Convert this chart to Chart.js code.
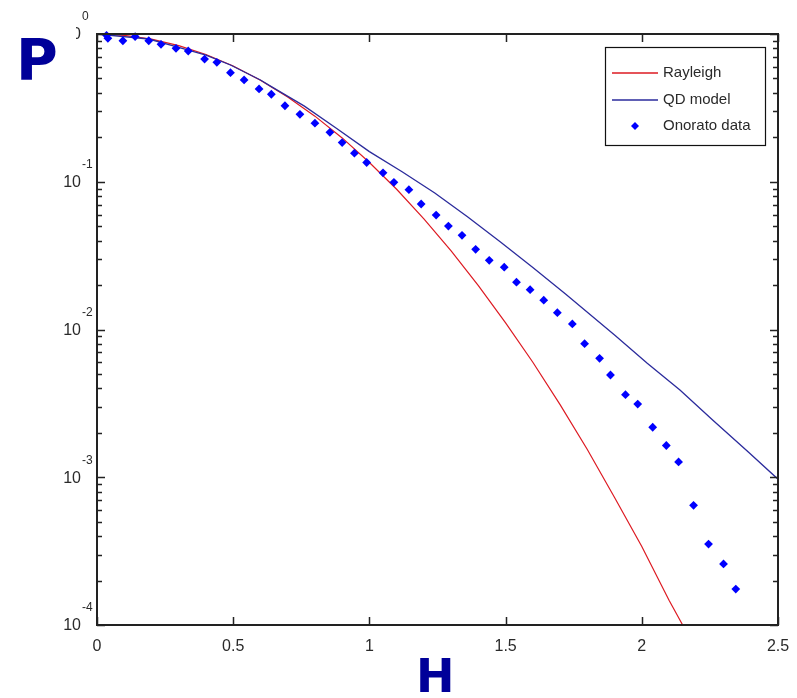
<!DOCTYPE html>
<html>
<head>
<meta charset="utf-8">
<style>
  body { margin: 0; background: #fff; }
  canvas { display: block; }
</style>
<script src="https://cdn.jsdelivr.net/npm/chart.js@4.4.1/dist/chart.umd.min.js"></script>
</head>
<body>
<canvas id="myChart" width="797" height="698"></canvas>
<script>
// Rayleigh curve
const rayH = [0, 0.1, 0.2, 0.3, 0.4, 0.5, 0.6, 0.7, 0.8, 0.9, 1.0, 1.1, 1.2, 1.3, 1.4, 1.5, 1.6, 1.7, 1.8, 1.9, 2.0, 2.1, 2.15];
const rayP = [1, 0.98, 0.923, 0.835, 0.726, 0.607, 0.487, 0.375, 0.278, 0.198, 0.135, 0.089, 0.056, 0.034, 0.0198, 0.0111, 0.006, 0.0031, 0.00154, 0.00073, 0.00034, 0.000147, 0.0001];

// QD model curve
const qdH = [0, 0.19, 0.29, 0.4, 0.49, 0.6, 0.64, 0.76, 0.88, 1.0, 1.12, 1.24, 1.36, 1.48, 1.6, 1.72, 1.9, 2.02, 2.14, 2.26, 2.39, 2.5];
const qdP = [1, 0.925, 0.82, 0.72, 0.617, 0.488, 0.44, 0.326, 0.229, 0.16, 0.117, 0.084, 0.058, 0.0393, 0.0263, 0.0174, 0.00918, 0.0059, 0.00389, 0.00244, 0.00149, 0.00097];

// Onorato data points
const onH = [0.035, 0.04, 0.095, 0.14, 0.19, 0.235, 0.29, 0.335, 0.395, 0.44, 0.49, 0.54, 0.595, 0.64, 0.69, 0.745, 0.80, 0.855, 0.90, 0.945, 0.99, 1.05, 1.09, 1.145, 1.19, 1.245, 1.29, 1.34, 1.39, 1.44, 1.495, 1.54, 1.59, 1.64, 1.69, 1.745, 1.79, 1.845, 1.885, 1.94, 1.985, 2.04, 2.09, 2.135, 2.19, 2.245, 2.30, 2.345];
const onP = [0.98, 0.935, 0.90, 0.96, 0.90, 0.851, 0.80, 0.767, 0.677, 0.643, 0.547, 0.489, 0.425, 0.391, 0.327, 0.286, 0.249, 0.216, 0.184, 0.156, 0.135, 0.115, 0.0991, 0.0884, 0.0707, 0.0595, 0.0501, 0.0434, 0.0349, 0.0294, 0.0264, 0.0209, 0.0186, 0.0158, 0.0130, 0.0109, 0.00802, 0.00638, 0.00492, 0.00362, 0.00313, 0.00218, 0.00164, 0.00127, 0.000646, 0.000353, 0.000259, 0.000175];

// axis ticks
const xTicks = [0, 0.5, 1, 1.5, 2, 2.5];
const xTickLabels = ['0', '0.5', '1', '1.5', '2', '2.5'];
const yTickExps = [0, -1, -2, -3, -4];

const toXY = (xs, ys) => xs.map((x, i) => ({ x: x, y: ys[i] }));

const RED = '#dd1a22';
const QD_BLUE = '#2b2b9c';
const PT_BLUE = '#0000ff';
const AXIS = '#222';
const TXT = '#2a2a2a';

const matlabAxes = {
    id: 'matlabAxes',
    afterDraw(chart) {
        const ctx = chart.ctx;
        const a = chart.chartArea;
        const xs = chart.scales.x, ys = chart.scales.y;
        ctx.save();

        // box
        ctx.strokeStyle = AXIS;
        ctx.lineWidth = 2;
        ctx.strokeRect(a.left, a.top, a.right - a.left, a.bottom - a.top);

        // x ticks (inside, top and bottom)
        ctx.lineWidth = 1.5;
        ctx.beginPath();
        xTicks.forEach(v => {
            const px = Math.round(xs.getPixelForValue(v)) + 0.5;
            ctx.moveTo(px, a.bottom); ctx.lineTo(px, a.bottom - 8);
            ctx.moveTo(px, a.top); ctx.lineTo(px, a.top + 8);
        });
        // y ticks, major and minor
        yTickExps.forEach(e => {
            const py = Math.round(ys.getPixelForValue(Math.pow(10, e))) + 0.5;
            ctx.moveTo(a.left, py); ctx.lineTo(a.left + 8, py);
            ctx.moveTo(a.right, py); ctx.lineTo(a.right - 8, py);
            if (e < 0) {
                for (let m = 2; m <= 9; m++) {
                    const my = Math.round(ys.getPixelForValue(m * Math.pow(10, e))) + 0.5;
                    ctx.moveTo(a.left, my); ctx.lineTo(a.left + 5, my);
                    ctx.moveTo(a.right, my); ctx.lineTo(a.right - 5, my);
                }
            }
        });
        ctx.stroke();

        // tick labels
        ctx.fillStyle = TXT;
        ctx.font = '16px "Liberation Sans", Arial, sans-serif';
        ctx.textAlign = 'center';
        ctx.textBaseline = 'top';
        xTicks.forEach((v, i) => {
            ctx.fillText(xTickLabels[i], xs.getPixelForValue(v), a.bottom + 14);
        });
        yTickExps.forEach(e => {
            const py = ys.getPixelForValue(Math.pow(10, e));
            ctx.save();
            if (e === 0) {
                // top label is mostly hidden in the original
                ctx.beginPath();
                ctx.rect(76, 0, 20, 60);
                ctx.clip();
            }
            ctx.font = '16px "Liberation Sans", Arial, sans-serif';
            ctx.textAlign = 'right';
            ctx.textBaseline = 'middle';
            ctx.fillText('10', a.left - 16, py + 1);
            ctx.restore();
            ctx.font = '12px "Liberation Sans", Arial, sans-serif';
            ctx.textAlign = 'left';
            ctx.textBaseline = 'middle';
            ctx.fillText(String(e === 0 ? '0' : '-' + (-e)), a.left - 15, py - 17);
        });

        // legend
        const lx = 605, ly = 47, lw = 160, lh = 98;
        ctx.fillStyle = '#fff';
        ctx.fillRect(lx, ly, lw, lh);
        ctx.strokeStyle = '#111';
        ctx.lineWidth = 1.2;
        ctx.strokeRect(lx + 0.5, ly + 0.5, lw, lh);
        const rows = [73, 100, 126];
        chart.data.datasets.forEach((ds, i) => {
            const ry = rows[i];
            if (ds.showLine) {
                ctx.strokeStyle = ds.borderColor;
                ctx.lineWidth = 1.3;
                ctx.beginPath();
                ctx.moveTo(612, ry); ctx.lineTo(658, ry);
                ctx.stroke();
            } else {
                ctx.fillStyle = ds.backgroundColor;
                ctx.beginPath();
                ctx.moveTo(635, ry - 4); ctx.lineTo(639, ry); ctx.lineTo(635, ry + 4); ctx.lineTo(631, ry);
                ctx.closePath();
                ctx.fill();
            }
            ctx.fillStyle = TXT;
            ctx.font = '15px "Liberation Sans", Arial, sans-serif';
            ctx.textAlign = 'left';
            ctx.textBaseline = 'middle';
            ctx.fillText(ds.label, 663, ry);
        });

        // axis titles
        ctx.fillStyle = '#000099';
        ctx.textAlign = 'left';
        ctx.textBaseline = 'alphabetic';
        ctx.font = 'bold 57px "DejaVu Sans", sans-serif';
        ctx.fillText('P', 16, 80);
        ctx.font = 'bold 46px "DejaVu Sans", sans-serif';
        ctx.fillText('H', 416, 692);

        ctx.restore();
    }
};

new Chart(document.getElementById('myChart').getContext('2d'), {
    type: 'scatter',
    data: {
        datasets: [
            {
                label: 'Rayleigh',
                data: toXY(rayH, rayP),
                showLine: true,
                borderColor: RED,
                borderWidth: 1.2,
                pointRadius: 0,
                tension: 0,
                order: 2
            },
            {
                label: 'QD model',
                data: toXY(qdH, qdP),
                showLine: true,
                borderColor: QD_BLUE,
                borderWidth: 1.3,
                pointRadius: 0,
                tension: 0,
                order: 1
            },
            {
                label: 'Onorato data',
                data: toXY(onH, onP),
                showLine: false,
                pointStyle: 'rectRot',
                pointRadius: 4.4,
                backgroundColor: PT_BLUE,
                borderColor: PT_BLUE,
                borderWidth: 0,
                clip: false,
                order: 0
            }
        ]
    },
    options: {
        responsive: false,
        animation: false,
        devicePixelRatio: 1,
        layout: { padding: { left: 97, right: 19, top: 34, bottom: 73 } },
        plugins: { legend: { display: false }, tooltip: { enabled: false } },
        scales: {
            x: { type: 'linear', min: 0, max: 2.5, display: false },
            y: { type: 'logarithmic', min: 0.0001, max: 1, display: false }
        }
    },
    plugins: [matlabAxes]
});
</script>
</body>
</html>
